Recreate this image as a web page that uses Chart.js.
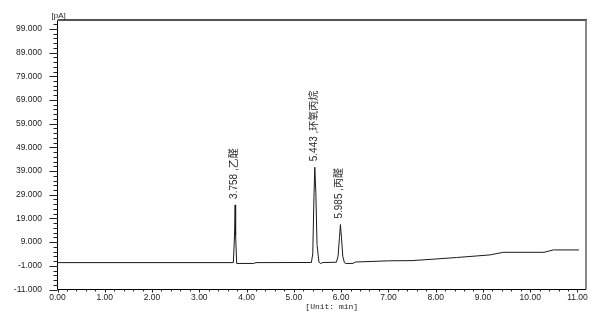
<!DOCTYPE html>
<html>
<head>
<meta charset="utf-8">
<style>
  html, body { margin:0; padding:0; background:#fff; }
  #wrap { width:601px; height:313px; }
</style>
<script src="https://cdn.jsdelivr.net/npm/chart.js@4"></script>
</head>
<body>
<div id="wrap"><canvas id="chrom" width="601" height="313"></canvas></div>
<script>
// Cromatograma FID: señal (pA) contra tiempo de retención (min)
const TIMES  = [0.00, 3.72, 3.745, 3.758, 3.768, 3.79, 4.15, 4.20,
                5.37, 5.40, 5.425, 5.443, 5.465, 5.49, 5.53, 5.56, 5.62,
                5.90, 5.935, 5.965, 5.985, 6.005, 6.035, 6.07, 6.10, 6.25, 6.30,
                7.00, 7.50, 7.88, 8.44, 9.15, 9.43, 10.29, 10.49, 11.03];
const SIGNAL = [0.35, 0.35, 12.0, 24.7, 12.0, 0.0, 0.0, 0.35,
                0.4, 4.0, 28.0, 40.6, 30.0, 8.0, 0.6, 0.0, 0.4,
                0.5, 3.0, 11.0, 16.4, 11.5, 3.0, 0.3, 0.0, 0.0, 0.6,
                1.1, 1.2, 1.7, 2.5, 3.6, 4.7, 4.7, 5.7, 5.7];

const PEAK_TIMES   = [3.758, 5.443, 5.985];
const PEAK_HEIGHTS = [24.7, 40.6, 16.4];
const PEAK_NAMES   = ['乙醛', '环氧丙烷', '丙醛'];

const X_TICKS = [0,1,2,3,4,5,6,7,8,9,10,11];
const Y_TICKS = [-11,-1,9,19,29,39,49,59,69,79,89,99];

const LATIN = '"Liberation Sans", "Noto Sans CJK SC", sans-serif';

const extras = {
  id: 'extras',
  afterDraw(chart){
    const {ctx, chartArea:a, scales:{x, y}} = chart;
    ctx.save();
    // ejes y marco
    ctx.lineWidth = 2;
    ctx.strokeStyle = '#555';
    ctx.beginPath(); ctx.moveTo(a.left, a.top - 0.5); ctx.lineTo(a.right + 1, a.top - 0.5); ctx.stroke();
    ctx.strokeStyle = '#8a8a8a';
    ctx.beginPath(); ctx.moveTo(a.right, a.top); ctx.lineTo(a.right, a.bottom); ctx.stroke();
    ctx.lineWidth = 1;
    ctx.strokeStyle = '#000';
    ctx.beginPath();
    ctx.moveTo(a.left, a.top); ctx.lineTo(a.left, a.bottom); ctx.lineTo(a.right, a.bottom);
    ctx.stroke();

    // marcas del eje y (mayores cada 10, menores cada 2)
    ctx.strokeStyle = '#222';
    ctx.beginPath();
    for(let v = -11; v <= 101.5; v += 2){
      const py = Math.round(y.getPixelForValue(v)) + 0.5;
      const major = Y_TICKS.includes(v);
      ctx.moveTo(a.left - (major ? 8 : 4), py); ctx.lineTo(a.left, py);
    }
    // marcas del eje x (mayores cada 1, menores cada 0.2)
    for(let i = 0; i <= 55; i++){
      const v = i / 5;
      const px = Math.round(x.getPixelForValue(v)) + 0.5;
      const major = i % 5 === 0;
      ctx.moveTo(px, a.bottom); ctx.lineTo(px, a.bottom + (major ? 3 : 2));
    }
    ctx.stroke();

    // etiquetas de picos, giradas
    ctx.fillStyle = '#2a2a2a';
    ctx.font = '10px ' + LATIN;
    ctx.textAlign = 'left';
    ctx.textBaseline = 'middle';
    PEAK_TIMES.forEach((t, i) => {
      const px = x.getPixelForValue(t);
      const py = y.getPixelForValue(PEAK_HEIGHTS[i]);
      ctx.save();
      ctx.translate(px - 1, py - 6);
      ctx.rotate(-Math.PI / 2);
      ctx.fillText(t.toFixed(3) + ' ,' + PEAK_NAMES[i], 0, 0);
      ctx.restore();
    });

    // unidades
    ctx.fillStyle = '#222';
    ctx.font = '8px ' + LATIN;
    ctx.textBaseline = 'bottom';
    ctx.fillText('[pA]', a.left - 6, a.top - 1);
    ctx.font = '8px "Liberation Mono", monospace';
    ctx.textAlign = 'center';
    ctx.textBaseline = 'middle';
    ctx.fillText('[Unit: min]', (a.left + a.right) / 2 + 10, 307);
    ctx.restore();
  }
};

new Chart(document.getElementById('chrom').getContext('2d'), {
  type: 'line',
  data: {
    datasets: [{
      data: TIMES.map((t, i) => ({x: t, y: SIGNAL[i]})),
      borderColor: '#1a1a1a',
      borderWidth: 1,
      pointRadius: 0,
      tension: 0,
      fill: false
    }]
  },
  options: {
    responsive: false,
    animation: false,
    layout: { padding: {top: 13.5, right: 15, bottom: 0, left: 0} },
    plugins: { legend: {display: false}, tooltip: {enabled: false} },
    scales: {
      x: {
        type: 'linear', min: 0, max: 11.18,
        grid: {display: false, drawTicks: false},
        border: {display: false},
        afterBuildTicks: s => { s.ticks = X_TICKS.map(v => ({value: v})); },
        afterFit: s => { s.height = 23.5; },
        ticks: {
          autoSkip: false, maxRotation: 0, padding: 3.5, color: '#222',
          font: {family: LATIN, size: 8.5},
          callback: v => Number(v).toFixed(2)
        }
      },
      y: {
        type: 'linear', min: -11, max: 102.5,
        grid: {display: false, drawTicks: false},
        border: {display: false},
        afterBuildTicks: s => { s.ticks = Y_TICKS.map(v => ({value: v})); },
        afterFit: s => { s.width = 57.5; },
        ticks: {
          autoSkip: false, padding: 15.5, color: '#222',
          font: {family: LATIN, size: 8.5},
          callback: v => Number(v).toFixed(3)
        }
      }
    }
  },
  plugins: [extras]
});
</script>
</body>
</html>
